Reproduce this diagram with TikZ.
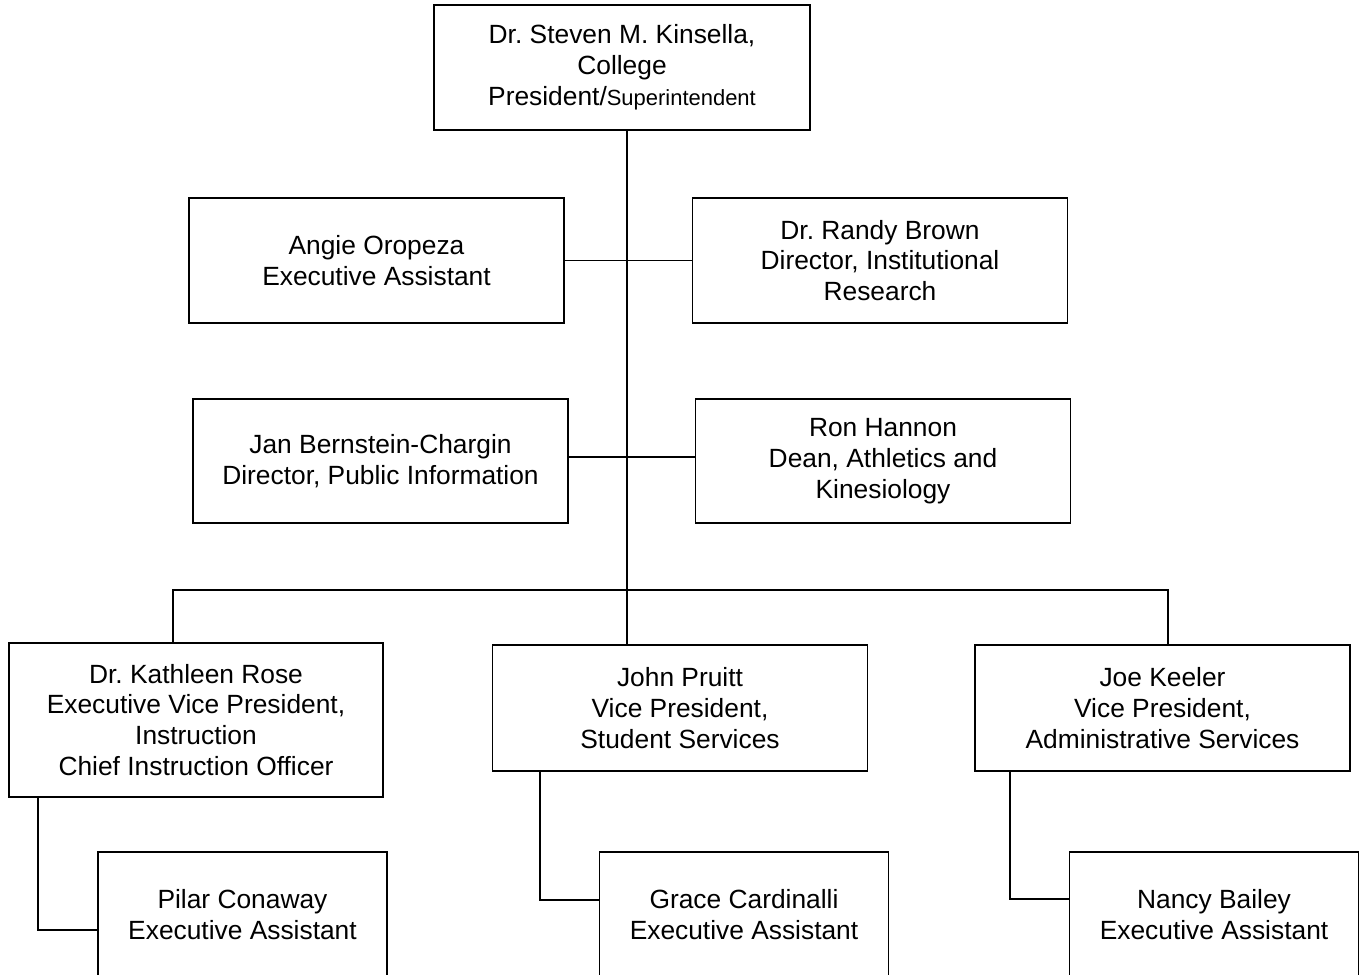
\documentclass[tikz,border=0pt]{standalone}
\usepackage{fontspec}
\setmainfont{Liberation Sans}
\frenchspacing
\tikzset{
  box/.style={draw, line width=0.9pt, align=center, minimum width=7.5cm, minimum height=2.5cm,
    font=\fontsize{15}{17.6}\selectfont},
  asst/.style={box, minimum width=5.78cm, minimum height=2.52cm},
  link/.style={line width=0.9pt}
}
\begin{document}
\begin{tikzpicture}[x=0.02cm, y=-0.02cm]
        % 画布
        \useasboundingbox (0, 0) rectangle (1362, 974);
        \clip (0, 0) rectangle (1362, 974);
        % 方框
        \node[box, minimum width=7.52cm] (pres) at (622, 67.5)
          {Dr. Steven M. Kinsella,\\ College\\ President/{\fontsize{12.5}{15}\selectfont Superintendent}};
        \node[box] (angie) at (376.5, 260.5) {Angie Oropeza\\ Executive Assistant};
        \node[box] (randy) at (880, 260.5) {Dr. Randy Brown\\ Director, Institutional\\ Research};
        \node[box, minimum height=2.48cm] (jan) at (380.5, 461) {Jan Bernstein-Chargin\\ Director, Public Information};
        \node[box, minimum height=2.48cm] (ron) at (883, 461) {Ron Hannon\\ Dean, Athletics and\\ Kinesiology};
        \node[box, minimum width=7.48cm, minimum height=3.08cm] (kath) at (196, 720)
          {Dr. Kathleen Rose\\ Executive Vice President,\\ Instruction\\ Chief Instruction Officer};
        \node[box, minimum height=2.52cm] (john) at (680, 708) {John Pruitt\\ Vice President,\\ Student Services};
        \node[box, minimum height=2.52cm] (joe) at (1162.5, 708) {Joe Keeler\\ Vice President,\\ Administrative Services};
        \node[asst] (pilar) at (242.5, 915) {Pilar Conaway\\ Executive Assistant};
        \node[asst] (grace) at (744, 915) {Grace Cardinalli\\ Executive Assistant};
        \node[asst] (nancy) at (1214, 915) {Nancy Bailey\\ Executive Assistant};
        % 连线
        \coordinate (spine) at (627, 0);
        \coordinate (busL) at (173, 590);
        \coordinate (busR) at (1168, 590);
        \draw[link] (pres.south -| spine) -- (john.north -| spine);
        \draw[link] (angie.east) -- (randy.west);
        \draw[link] ([yshift=0.08cm]jan.east) -- ([yshift=0.08cm]ron.west);
        \draw[link] (busL |- kath.north) -- (busL) -- (busR) -- (busR |- joe.north);
        \draw[link] ([xshift=0.6cm]kath.south west) |- ([yshift=-0.3cm]pilar.west);
        \draw[link] ([xshift=0.96cm]john.south west) |- ([yshift=0.3cm]grace.west);
        \draw[link] ([xshift=0.72cm]joe.south west) |- ([yshift=0.32cm]nancy.west);
\end{tikzpicture}
\end{document}
